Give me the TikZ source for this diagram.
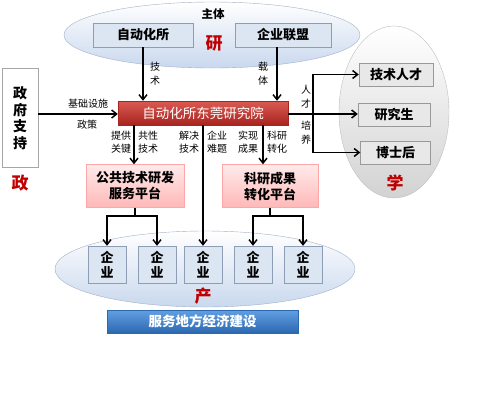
\documentclass[tikz,border=0pt]{standalone}
\usepackage{fontspec}
\setmainfont{Noto Sans CJK SC}
\usetikzlibrary{arrows.meta,shapes.geometric}
\definecolor{bbfill}{HTML}{DCE6F2}
\definecolor{bbdraw}{HTML}{8C9DB5}
\definecolor{redtxt}{HTML}{C00000}
\definecolor{bartop}{HTML}{DA5A52}
\definecolor{barbot}{HTML}{A8241F}
\definecolor{blutop}{HTML}{629FE2}
\definecolor{blubot}{HTML}{2C68B0}
\definecolor{ellbot}{HTML}{C9D8EE}
\begin{document}
\begin{tikzpicture}[x=1pt,y=-1pt,
  bluebox/.style={draw=bbdraw,fill=bbfill,font=\fontsize{13}{15}\selectfont\bfseries,inner sep=0pt},
  graybox/.style={draw=gray!80,fill=gray!18,font=\fontsize{13}{15}\selectfont\bfseries,inner sep=0pt,minimum width=72,minimum height=23},
  pinkbox/.style={draw=red!35,top color=red!8,bottom color=red!28,font=\fontsize{13}{16}\selectfont\bfseries,inner sep=0pt,minimum width=98,minimum height=43,align=center},
  qybox/.style={draw=bbdraw,fill=bbfill,font=\fontsize{13}{15}\selectfont\bfseries,inner sep=0pt,minimum width=38,minimum height=37,align=center},
  big/.style={font=\fontsize{17}{19}\selectfont\bfseries,text=redtxt,inner sep=0pt},
  lbl/.style={font=\fontsize{10}{12.5}\selectfont,inner sep=0pt,align=center},
  vlbl/.style={font=\fontsize{10}{14}\selectfont,inner sep=0pt,align=center},
  arr/.style={-{Straight Barb[length=5pt,width=8pt,line width=1.5pt]},line width=1.8pt},
  ln/.style={line width=1.8pt}]
\useasboundingbox (0,0) rectangle (500,402);
% ellipses
\node[ellipse,draw=bbdraw!80,top color=white,bottom color=ellbot,minimum width=296,minimum height=66,inner sep=0pt] (top) at (212,35) {};
\node[ellipse,draw=gray!50,top color=white,bottom color=gray!35,minimum width=110,minimum height=172,inner sep=0pt] (xue) at (394,112) {};
\node[ellipse,draw=bbdraw!80,top color=white,bottom color=ellbot,minimum width=300,minimum height=76,inner sep=0pt] (bot) at (205,269) {};
% top
\node[font=\fontsize{11.5}{13}\selectfont\bfseries,inner sep=0pt] (zt) at (213,14) {主体};
\node[bluebox,minimum width=100,minimum height=24] (zdh) at (143,35) {自动化所};
\node[bluebox,minimum width=96,minimum height=24] (lm) at (283,35) {企业联盟};
\node[big] (yan) at (214,43) {研};
% red bar
\node[draw=barbot,top color=bartop,bottom color=barbot,text=white,font=\fontsize{13.5}{15}\selectfont,minimum width=170,minimum height=24,inner sep=0pt] (bar) at (203,113) {自动化所东莞研究院};
% gov
\node[draw=gray!70,fill=white,minimum width=36,minimum height=99,inner sep=0pt,align=center,font=\fontsize{14}{16.5}\selectfont\bfseries] (zf) at (20,118) {政\\府\\支\\持};
\node[big] (zheng) at (20,183) {政};
% xue boxes
\node[graybox,minimum width=74] (jsrc) at (396,74.5) {技术人才};
\node[graybox] (yjs) at (394,115) {研究生};
\node[graybox,minimum width=70] (bsh) at (395.5,152.5) {博士后};
\node[big] (xuet) at (395,183) {学};
% platforms
\node[pinkbox] (gg) at (135,186) {公共技术研发\\服务平台};
\node[pinkbox,minimum width=96] (ky) at (270,186) {科研成果\\转化平台};
% enterprises
\node[qybox] (q1) at (107,264.5) {企\\业};
\node[qybox] (q2) at (157,264.5) {企\\业};
\node[qybox] (q3) at (203,264.5) {企\\业};
\node[qybox] (q4) at (253,264.5) {企\\业};
\node[qybox] (q5) at (303,264.5) {企\\业};
\node[big] (chan) at (203,296) {产};
% blue bar
\node[draw=blubot,top color=blutop,bottom color=blubot,text=white,font=\fontsize{13.5}{15}\selectfont\bfseries,minimum width=191,minimum height=23,inner sep=0pt] (fw) at (202.5,321.5) {服务地方经济建设};
% connectors top
\draw[arr] (zdh.south) -- (zdh.south |- bar.north);
\coordinate (lmx) at (277,47);
\draw[arr] (lmx) -- (lmx |- bar.north);
\node[vlbl] (ljs) at (155,74) {技\\术};
\node[vlbl] (lzt) at (263,74) {载\\体};
% gov arrow
\coordinate (zfy) at (38,114);
\draw[arr] (zfy) -- (zfy -| bar.west);
\node[lbl] (ljc) at (88,104) {基础设施};
\node[lbl] (lzc) at (87,125) {政策};
% right fork
\coordinate (fk) at (313,114);
\draw[arr] (bar.east |- fk) -- (yjs.west |- fk);
\draw[ln] (fk |- jsrc.west) -- (fk |- bsh.west);
\draw[arr] ([xshift=-0.9pt]fk |- jsrc.west) -- (jsrc.west);
\draw[arr] ([xshift=-0.9pt]fk |- bsh.west) -- (bsh.west);
\node[vlbl] (lrc) at (306,97) {人\\才};
\node[vlbl] (lpy) at (306,133) {培\\养};
% bar down
\coordinate (d1) at (134,125);
\draw[arr] (d1) -- (d1 |- gg.north);
\coordinate (d3) at (263,125);
\draw[arr] (d3) -- (d3 |- ky.north);
\draw[arr] (q3.north |- bar.south) -- (q3.north);
\node[lbl] (l1) at (121,142) {提供\\关键};
\node[lbl] (l2) at (148,142) {共性\\技术};
\node[lbl] (l3) at (189,142) {解决\\技术};
\node[lbl] (l4) at (217,142) {企业\\难题};
\node[lbl] (l5) at (248,142) {实现\\成果};
\node[lbl] (l6) at (277,142) {科研\\转化};
% platform forks
\draw[arr] (gg.south) -- ++(0,8) -| (q1.north);
\draw[arr] (gg.south) ++(0,8) -| (q2.north);
\draw[arr] (ky.south) -- ++(0,8) -| (q4.north);
\draw[arr] (ky.south) ++(0,8) -| (q5.north);
\end{tikzpicture}
\end{document}
